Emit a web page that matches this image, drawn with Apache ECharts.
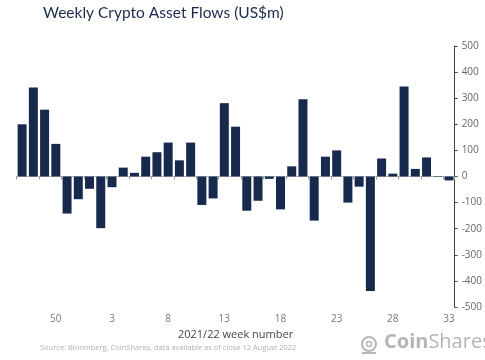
<!DOCTYPE html>
<html>
<head>
<meta charset="utf-8">
<script src="https://cdn.jsdelivr.net/npm/echarts@6/dist/echarts.min.js"></script>
<style>html,body{margin:0;padding:0;background:#fff}#c{width:485px;height:360px}</style>
</head>
<body>
<div id="c"></div>
<script>
var weeks = ['47','48','49','50','51','52','1','2','3','4','5','6','7','8','9','10','11','12','13','14','15','16','17','18','19','20','21','22','23','24','25','26','27','28','29','30','31','32','33'];
var flows = [200,341,256,125,-142,-87,-47,-198,-41,34,14,76,93,130,62,130,-109,-84,281,191,-131,-93,-9,-126,39,296,-169,76,100,-100,-39,-439,69,11,345,29,73,2,-15];
var yTicks = [-500,500,100];

var chart = echarts.init(document.getElementById('c'));
var font = 'Open Sans';
chart.setOption({
  animation: false,
  grid: {left: 16.5, right: 23, top: 46, bottom: 53},
  title: {
    text: 'Weekly Crypto Asset Flows (US$m)',
    left: 38, top: 0,
    textStyle: {fontFamily: 'Lato', fontSize: 15.5, fontWeight: 'normal', color: '#1b2b4b'}
  },
  xAxis: [{
    type: 'category', data: weeks,
    axisLine: {onZero: true, lineStyle: {color: '#bbbbbb', width: 1}},
    axisTick: {show: true, length: 3, lineStyle: {color: '#999'}},
    axisLabel: {show: false}
  }, {
    type: 'category', data: weeks, position: 'bottom',
    axisLine: {show: false}, axisTick: {show: false},
    axisLabel: {
      interval: function (i) { return (i - 3) % 5 === 0; },
      fontFamily: font, fontSize: 10, color: '#777', margin: 7
    },
    name: '2021/22 week number', nameLocation: 'middle', nameGap: 21,
    nameTextStyle: {fontFamily: font, fontSize: 11, color: '#444'}
  }],
  yAxis: {
    type: 'value', position: 'right',
    min: yTicks[0], max: yTicks[1], interval: yTicks[2],
    axisLine: {show: true, lineStyle: {color: '#444', width: 1}},
    axisTick: {show: true, inside: false, length: 3, lineStyle: {color: '#444'}},
    splitLine: {show: false},
    axisLabel: {fontFamily: font, fontSize: 10, color: '#666', margin: 7}
  },
  series: [{
    type: 'bar', data: flows, xAxisIndex: 0,
    barCategoryGap: '20%',
    itemStyle: {color: '#172a4e'}
  }],
  graphic: [
    {type: 'text', left: 40, top: 344,
     style: {text: 'Source: Bloomberg, CoinShares, data available as of close 12 August 2022',
             font: '7.5px "Open Sans"', fill: '#b0b0b0'}},
    {type: 'circle', shape: {cx: 369, cy: 344, r: 7}, style: {fill: 'none', stroke: '#b8b8b8', lineWidth: 2}},
    {type: 'circle', shape: {cx: 369, cy: 344, r: 2.5}, style: {fill: 'none', stroke: '#b8b8b8', lineWidth: 1.5}},
    {type: 'rect', shape: {x: 362, y: 352, width: 14, height: 2}, style: {fill: '#b8b8b8'}},
    {type: 'text', left: 384, top: 332,
     style: {text: '{b|Coin}{n|Shares}', rich: {
       b: {fontFamily: font, fontSize: 20, fontWeight: 'bold', fill: '#b5b5b5'},
       n: {fontFamily: font, fontSize: 20, fill: '#b5b5b5'}
     }}}
  ]
});
</script>
</body>
</html>
